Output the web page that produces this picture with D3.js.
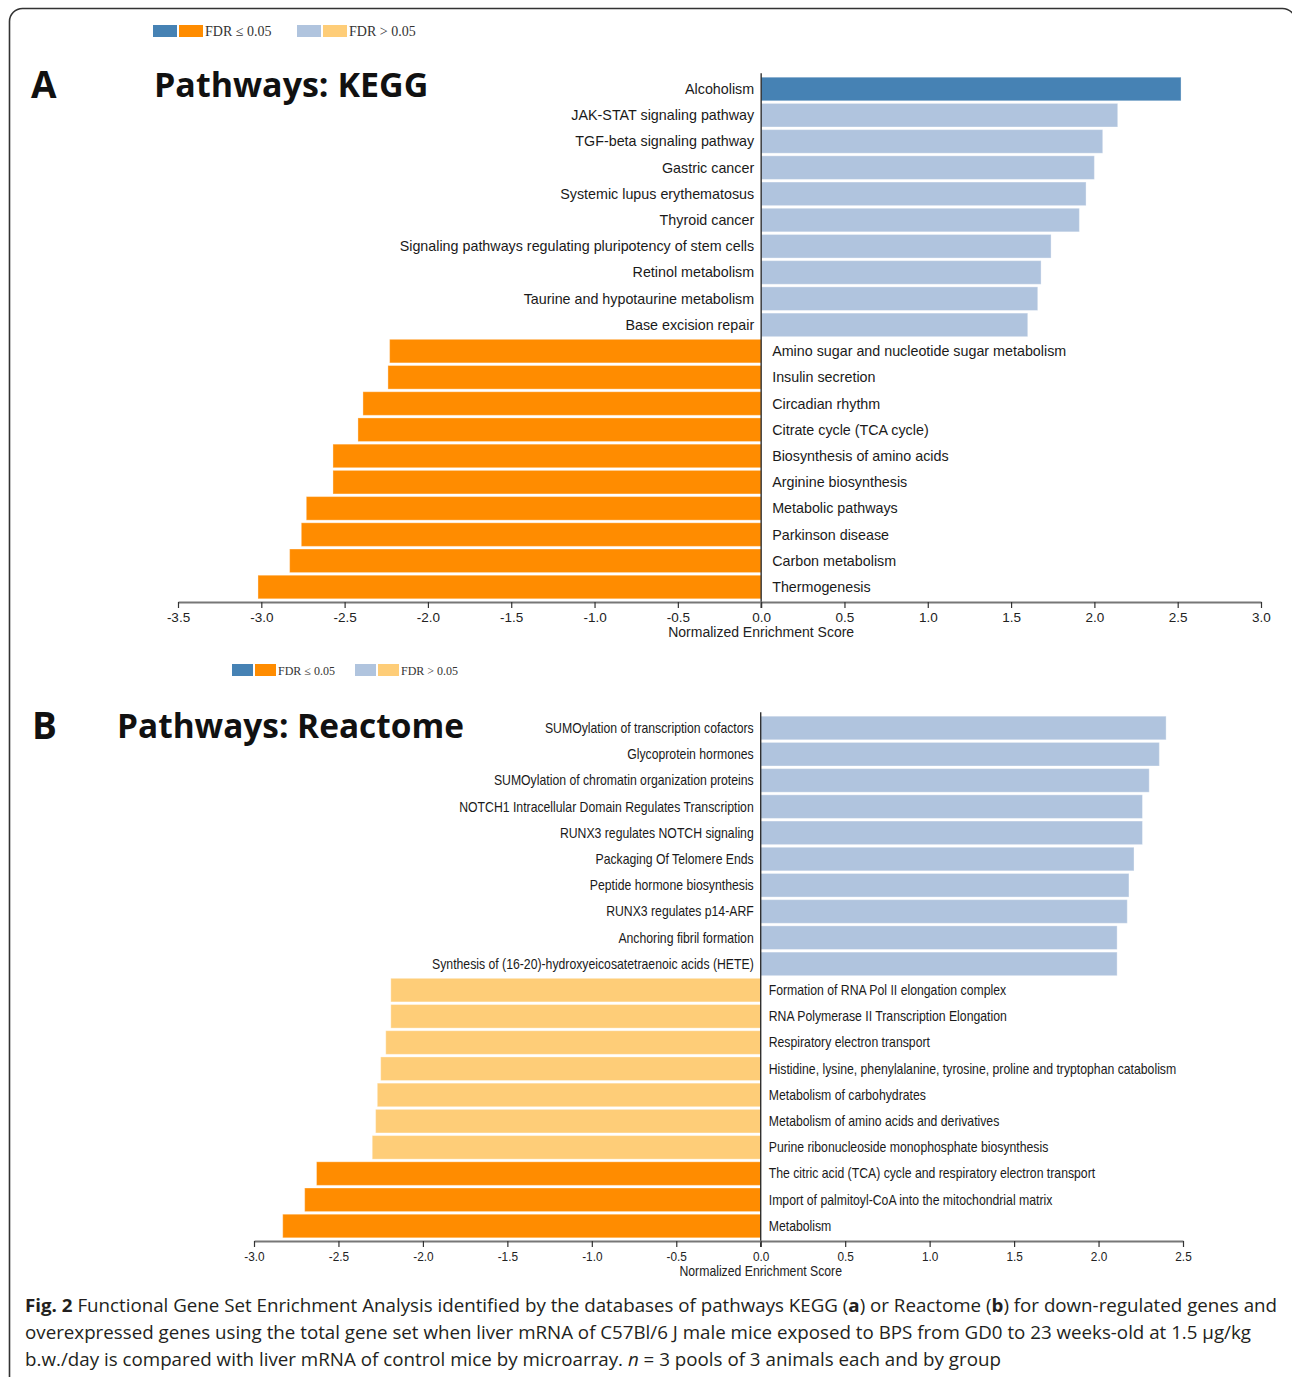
<!DOCTYPE html>
<html>
<head>
<meta charset="utf-8">
<script src="https://cdn.jsdelivr.net/npm/d3@7"></script>
<style>
  html, body { margin: 0; padding: 0; background: #fff; }
  svg { display: block; }
</style>
</head>
<body>
<svg id="chart" width="1292" height="1377"></svg>
<script>
// ---------------- DATA ----------------
const keggCategories = [
  "Alcoholism",
  "JAK-STAT signaling pathway",
  "TGF-beta signaling pathway",
  "Gastric cancer",
  "Systemic lupus erythematosus",
  "Thyroid cancer",
  "Signaling pathways regulating pluripotency of stem cells",
  "Retinol metabolism",
  "Taurine and hypotaurine metabolism",
  "Base excision repair",
  "Amino sugar and nucleotide sugar metabolism",
  "Insulin secretion",
  "Circadian rhythm",
  "Citrate cycle (TCA cycle)",
  "Biosynthesis of amino acids",
  "Arginine biosynthesis",
  "Metabolic pathways",
  "Parkinson disease",
  "Carbon metabolism",
  "Thermogenesis"
];
const keggNES = [2.52, 2.14, 2.05, 2.00, 1.95, 1.91, 1.74, 1.68, 1.66, 1.60,
                 -2.23, -2.24, -2.39, -2.42, -2.57, -2.57, -2.73, -2.76, -2.83, -3.02];
const keggSignificant = [true, false, false, false, false, false, false, false, false, false,
                         true, true, true, true, true, true, true, true, true, true];
const keggTicks = [-3.5, -3.0, -2.5, -2.0, -1.5, -1.0, -0.5, 0.0, 0.5, 1.0, 1.5, 2.0, 2.5, 3.0];

const reactomeCategories = [
  "SUMOylation of transcription cofactors",
  "Glycoprotein hormones",
  "SUMOylation of chromatin organization proteins",
  "NOTCH1 Intracellular Domain Regulates Transcription",
  "RUNX3 regulates NOTCH signaling",
  "Packaging Of Telomere Ends",
  "Peptide hormone biosynthesis",
  "RUNX3 regulates p14-ARF",
  "Anchoring fibril formation",
  "Synthesis of (16-20)-hydroxyeicosatetraenoic acids (HETE)",
  "Formation of RNA Pol II elongation complex",
  "RNA Polymerase II Transcription Elongation",
  "Respiratory electron transport",
  "Histidine, lysine, phenylalanine, tyrosine, proline and tryptophan catabolism",
  "Metabolism of carbohydrates",
  "Metabolism of amino acids and derivatives",
  "Purine ribonucleoside monophosphate biosynthesis",
  "The citric acid (TCA) cycle and respiratory electron transport",
  "Import of palmitoyl-CoA into the mitochondrial matrix",
  "Metabolism"
];
const reactomeNES = [2.40, 2.36, 2.30, 2.26, 2.26, 2.21, 2.18, 2.17, 2.11, 2.11,
                     -2.19, -2.19, -2.22, -2.25, -2.27, -2.28, -2.30, -2.63, -2.70, -2.83];
const reactomeSignificant = [false, false, false, false, false, false, false, false, false, false,
                             false, false, false, false, false, false, false, true, true, true];
const reactomeTicks = [-3.0, -2.5, -2.0, -1.5, -1.0, -0.5, 0.0, 0.5, 1.0, 1.5, 2.0, 2.5];

const legendLabels = ["FDR \u2264 0.05", "FDR > 0.05"];

// ---------------- STYLE ----------------
const COLORS = {
  posSig: "#4682b4",
  posNS: "#b0c4de",
  negSig: "#ff8c00",
  negNS: "#fecd78"
};
function barColor(v, sig) {
  if (v >= 0) return sig ? COLORS.posSig : COLORS.posNS;
  return sig ? COLORS.negSig : COLORS.negNS;
}
const SANS = "'Liberation Sans', Arial, sans-serif";

const svg = d3.select("#chart");

// horizontal squeeze factor to imitate the narrow face used in panel B
function measure(txt, size) {
  const t = svg.append("text").attr("font-family", SANS).attr("font-size", size).text(txt);
  const w = t.node().getComputedTextLength();
  t.remove();
  return w;
}
const narrowScale = Math.min(1, 322 / measure(reactomeCategories[9], 14));

// frame
svg.append("rect")
  .attr("x", 9.5).attr("y", 8.5)
  .attr("width", 1286).attr("height", 1420)
  .attr("rx", 13).attr("ry", 13)
  .attr("fill", "none").attr("stroke", "#333").attr("stroke-width", 1.6);

function legend(x0, y0, w, fontSize, textOffset) {
  const g = svg.append("g");
  const pairs = [[COLORS.posSig, COLORS.negSig], [COLORS.posNS, COLORS.negNS]];
  let x = x0;
  pairs.forEach((p, i) => {
    g.append("rect").attr("x", x).attr("y", y0).attr("width", w).attr("height", 12).attr("fill", p[0]);
    g.append("rect").attr("x", x + w + 2).attr("y", y0).attr("width", w).attr("height", 12).attr("fill", p[1]);
    g.append("text")
      .attr("x", x + 2 * w + 4).attr("y", y0 + 11)
      .attr("font-family", "'Liberation Serif', 'DejaVu Serif', serif")
      .attr("font-size", fontSize).attr("fill", "#333")
      .text(legendLabels[i]);
    x += textOffset;
  });
}

function panel(opts) {
  const { cats, vals, sig, ticks, domain, xRange, yTop, yBottom, axisY,
          letter, letterX, title, titleX, titleY, titleSize, labelSize, negLabelDx,
          tickSize, sx } = opts;
  const x = d3.scaleLinear().domain(domain).range(xRange);
  const y = d3.scaleBand().domain(cats).range([yTop, yBottom]).paddingInner(0.1).paddingOuter(0);
  const g = svg.append("g");

  const data = cats.map((c, i) => ({ c, v: vals[i], s: sig[i] }));

  g.selectAll("rect.bar").data(data).enter().append("rect")
    .attr("class", "bar")
    .attr("x", d => x(Math.min(0, d.v)))
    .attr("width", d => Math.abs(x(d.v) - x(0)))
    .attr("y", d => y(d.c))
    .attr("height", y.bandwidth())
    .attr("fill", d => barColor(d.v, d.s))
    .attr("stroke", "#ffffff").attr("stroke-opacity", 0.35).attr("stroke-width", 1);

  g.selectAll("text.lab").data(data).enter().append("text")
    .attr("class", "lab")
    .attr("transform", d => {
      const tx = d.v >= 0 ? x(0) - 7 : x(0) + negLabelDx;
      const ty = y(d.c) + y.bandwidth() / 2;
      return `translate(${tx},${ty}) scale(${sx},1)`;
    })
    .attr("dy", "0.35em")
    .attr("text-anchor", d => d.v >= 0 ? "end" : "start")
    .attr("font-family", SANS)
    .attr("font-size", labelSize)
    .attr("fill", "#1a1a1a")
    .text(d => d.c);

  // zero line
  g.append("line")
    .attr("x1", x(0)).attr("x2", x(0))
    .attr("y1", yTop - 4).attr("y2", axisY + 6)
    .attr("stroke", "#222").attr("stroke-width", 1.3);

  // x axis
  const axis = d3.axisBottom(x).tickValues(ticks).tickFormat(d => d.toFixed(1)).tickSize(6).tickSizeOuter(0);
  const ax = g.append("g").attr("transform", `translate(0,${axisY})`).call(axis);
  ax.select(".domain").attr("stroke", "#777").attr("stroke-width", 2.2);
  ax.selectAll(".tick line").attr("stroke", "#333").attr("stroke-width", 1.2);
  ax.selectAll(".tick text")
    .attr("font-family", SANS).attr("font-size", tickSize).attr("fill", "#222").attr("dy", "0.85em")
    .attr("transform", `scale(${sx},1)`);

  g.append("text")
    .attr("transform", `translate(${x(0)},${axisY + 35}) scale(${sx},1)`)
    .attr("text-anchor", "middle")
    .attr("font-family", SANS).attr("font-size", 14)
    .attr("fill", "#222")
    .text("Normalized Enrichment Score");

  // panel letter and title
  svg.append("text")
    .attr("x", letterX).attr("y", titleY + 1)
    .attr("font-family", "'Open Sans', 'Noto Sans', sans-serif").attr("font-weight", "bold")
    .attr("font-size", 37).attr("fill", "#111").text(letter);
  svg.append("text")
    .attr("x", titleX).attr("y", titleY)
    .attr("font-family", "'Open Sans', 'Noto Sans', sans-serif").attr("font-weight", "bold")
    .attr("font-size", titleSize).attr("fill", "#111").text(title);
}

legend(153, 25, 24, 14, 144);
panel({
  cats: keggCategories, vals: keggNES, sig: keggSignificant, ticks: keggTicks,
  domain: [-3.5, 3.0], xRange: [178, 1261], yTop: 77.2, yBottom: 598.8, axisY: 602,
  letter: "A", letterX: 31, title: "Pathways: KEGG", titleX: 154, titleY: 97, titleSize: 34,
  labelSize: 14.3, negLabelDx: 11, tickSize: 13.5, sx: 1
});

legend(232, 664, 21, 12, 123);
panel({
  cats: reactomeCategories, vals: reactomeNES, sig: reactomeSignificant, ticks: reactomeTicks,
  domain: [-3.0, 2.5], xRange: [254, 1183], yTop: 716.2, yBottom: 1237.8, axisY: 1241,
  letter: "B", letterX: 32, title: "Pathways: Reactome", titleX: 117, titleY: 738, titleSize: 33.4,
  labelSize: 14, negLabelDx: 8, tickSize: 13.5, sx: narrowScale
});

// caption
const captionFont = "'Open Sans', 'Noto Sans', sans-serif";
const capLines = [
  { y: 1312, len: 1252, parts: [["Fig. 2", "bold"], [" Functional Gene Set Enrichment Analysis identified by the databases of pathways KEGG (", ""], ["a", "bold"], [") or Reactome (", ""], ["b", "bold"], [") for down-regulated genes and", ""]] },
  { y: 1339, len: 1226, parts: [["overexpressed genes using the total gene set when liver mRNA of C57Bl/6 J male mice exposed to BPS from GD0 to 23 weeks-old at 1.5 \u03bcg/kg", ""]] },
  { y: 1366, len: 976, parts: [["b.w./day is compared with liver mRNA of control mice by microarray. ", ""], ["n", "italic"], [" = 3 pools of 3 animals each and by group", ""]] }
];
capLines.forEach(l => {
  const t = svg.append("text")
    .attr("x", 25).attr("y", l.y)
    .attr("font-family", captionFont).attr("font-size", 18).attr("fill", "#231f20")
    .attr("textLength", l.len).attr("lengthAdjust", "spacingAndGlyphs")
    .attr("xml:space", "preserve");
  l.parts.forEach(p => {
    const ts = t.append("tspan").text(p[0]);
    if (p[1] === "bold") ts.attr("font-weight", "bold");
    if (p[1] === "italic") ts.attr("font-style", "italic");
  });
});
</script>
</body>
</html>
